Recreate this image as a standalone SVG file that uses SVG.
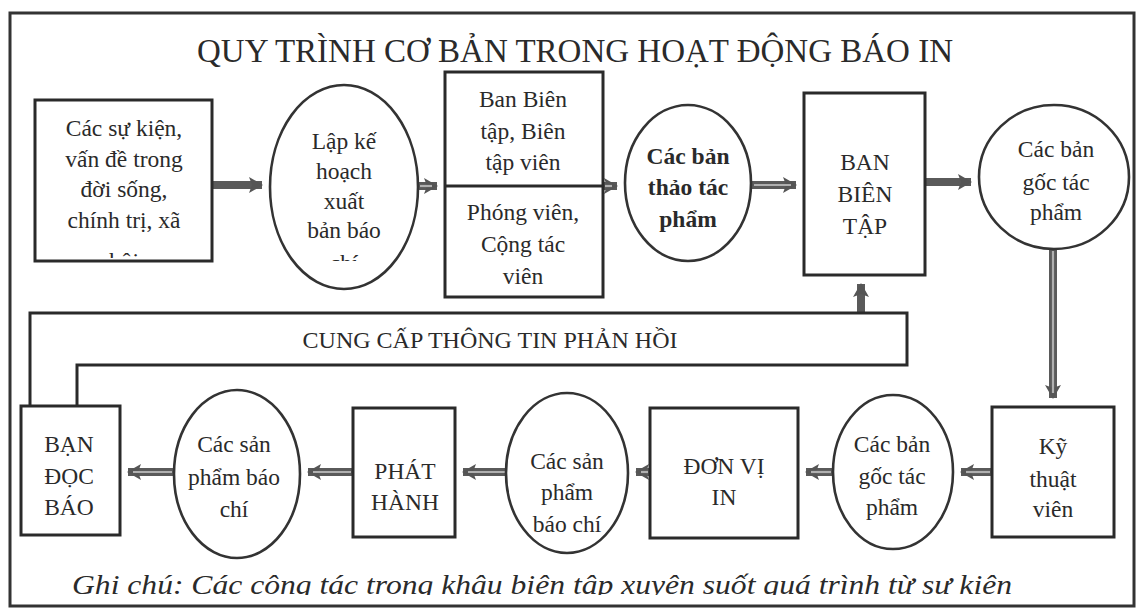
<svg xmlns="http://www.w3.org/2000/svg" width="1139" height="611" viewBox="0 0 1139 611">
<style>
.t{font-family:"Liberation Serif","Times New Roman",serif;font-size:23.5px;fill:#2a2a2a;text-anchor:middle}
.b{font-weight:bold}
.box{fill:#fff;stroke:#2a2a2a;stroke-width:3}
.ell{fill:#fff;stroke:#333;stroke-width:2.6}
.sh{fill:none;stroke:#5a5a5a;stroke-width:8}
.in{fill:none;stroke:#b0b0b0;stroke-width:2.2}
</style>
<defs>
<marker id="ah" markerUnits="userSpaceOnUse" markerWidth="14" markerHeight="16" refX="13" refY="8" orient="auto">
<path d="M0,0 L14,8 L0,16 L3,8 Z" fill="#555"/>
</marker>
<clipPath id="c1"><rect x="36" y="101" width="175" height="157"/></clipPath>
<clipPath id="c2"><rect x="270" y="85" width="150" height="176"/></clipPath>
<clipPath id="cf"><rect x="12" y="540" width="1120" height="55"/></clipPath>
</defs>
<rect width="1139" height="611" fill="#fff"/>
<rect x="10" y="13" width="1124" height="593" fill="none" stroke="#333" stroke-width="3"/>
<text class="t" x="575" y="62" style="font-size:33px">QUY TRÌNH CƠ BẢN TRONG HOẠT ĐỘNG BÁO IN</text>

<g id="connectors">
<path class="sh" d="M213,185 H262" marker-end="url(#ah)"/>
<path class="sh" d="M418,186 H437" marker-end="url(#ah)"/>
<path class="in" d="M420,186 H432"/>
<path class="sh" d="M603,186 H617" marker-end="url(#ah)"/>
<path class="in" d="M605,186 H612"/>
<path class="sh" d="M752,185 H796" marker-end="url(#ah)"/>
<path class="in" d="M754,185 H791"/>
<path class="sh" d="M925,182 H971" marker-end="url(#ah)"/>
<path class="sh" d="M1053,249 V398" marker-end="url(#ah)"/>
<path class="in" d="M1053,251 V393"/>
<path class="sh" d="M861,313 V284" marker-end="url(#ah)"/>
<path class="sh" d="M992,472 H961" marker-end="url(#ah)"/>
<path class="in" d="M990,472 H966"/>
<path class="sh" d="M833,472 H806" marker-end="url(#ah)"/>
<path class="in" d="M831,472 H811"/>
<path class="sh" d="M650,472 H636" marker-end="url(#ah)"/>
<path class="in" d="M648,472 H641"/>
<path class="sh" d="M507,472 H463" marker-end="url(#ah)"/>
<path class="in" d="M505,472 H468"/>
<path class="sh" d="M353,472 H308" marker-end="url(#ah)"/>
<path class="in" d="M351,472 H313"/>
<path class="sh" d="M174,472 H128" marker-end="url(#ah)"/>
<path class="in" d="M172,472 H133"/>
</g>

<g id="su-kien">
<rect class="box" x="35" y="100" width="177" height="161"/>
<g clip-path="url(#c1)">
<text class="t" x="124" y="136">Các sự kiện,</text>
<text class="t" x="124" y="167">vấn đề trong</text>
<text class="t" x="124" y="197">đời sống,</text>
<text class="t" x="124" y="228">chính trị, xã</text>
<text class="t" x="124" y="269">hội</text>
</g>
</g>

<g id="lap-ke-hoach">
<ellipse class="ell" cx="344" cy="187" rx="74" ry="102"/>
<g clip-path="url(#c2)">
<text class="t" x="344" y="149">Lập kế</text>
<text class="t" x="344" y="179">hoạch</text>
<text class="t" x="344" y="209">xuất</text>
<text class="t" x="344" y="238">bản báo</text>
<text class="t" x="344" y="271">chí</text>
</g>
</g>

<g id="ban-bien-tap-phong-vien">
<rect class="box" x="445" y="72" width="158" height="225"/>
<line x1="445" y1="186" x2="603" y2="186" stroke="#2a2a2a" stroke-width="3"/>
<text class="t" x="523" y="107">Ban Biên</text>
<text class="t" x="523" y="139">tập, Biên</text>
<text class="t" x="523" y="170">tập viên</text>
<text class="t" x="523" y="220">Phóng viên,</text>
<text class="t" x="523" y="252">Cộng tác</text>
<text class="t" x="523" y="284">viên</text>
</g>

<g id="ban-thao">
<ellipse class="ell" cx="688" cy="183" rx="63" ry="78"/>
<text class="t b" x="688" y="164">Các bản</text>
<text class="t b" x="688" y="195">thảo tác</text>
<text class="t b" x="688" y="227">phẩm</text>
</g>

<g id="ban-bien-tap">
<rect class="box" x="804" y="93" width="121" height="182"/>
<text class="t" x="865" y="170">BAN</text>
<text class="t" x="865" y="202">BIÊN</text>
<text class="t" x="865" y="234">TẬP</text>
</g>

<g id="ban-goc-1">
<ellipse class="ell" cx="1054" cy="177" rx="75" ry="72"/>
<text class="t" x="1056" y="157">Các bản</text>
<text class="t" x="1056" y="190">gốc tác</text>
<text class="t" x="1056" y="220">phẩm</text>
</g>

<g id="phan-hoi">
<path d="M30,406 V313 H907 V365 H77 V406" fill="#fff" stroke="#2a2a2a" stroke-width="3"/>
<text class="t" x="490" y="348" style="font-size:24px">CUNG CẤP THÔNG TIN PHẢN HỒI</text>
</g>

<g id="ky-thuat-vien">
<rect class="box" x="992" y="407" width="122" height="130"/>
<text class="t" x="1053" y="454">Kỹ</text>
<text class="t" x="1053" y="487">thuật</text>
<text class="t" x="1053" y="517">viên</text>
</g>

<g id="ban-goc-2">
<ellipse class="ell" cx="893" cy="472" rx="60" ry="77"/>
<text class="t" x="892" y="452">Các bản</text>
<text class="t" x="892" y="484">gốc tác</text>
<text class="t" x="892" y="515">phẩm</text>
</g>

<g id="don-vi-in">
<rect class="box" x="650" y="408" width="148" height="130"/>
<text class="t" x="724" y="474">ĐƠN VỊ</text>
<text class="t" x="724" y="505">IN</text>
</g>

<g id="san-pham-1">
<ellipse class="ell" cx="567" cy="473" rx="61" ry="80"/>
<text class="t" x="567" y="469">Các sản</text>
<text class="t" x="567" y="500">phẩm</text>
<text class="t" x="567" y="532">báo chí</text>
</g>

<g id="phat-hanh">
<rect class="box" x="353" y="408" width="102" height="129"/>
<text class="t" x="405" y="479">PHÁT</text>
<text class="t" x="405" y="510">HÀNH</text>
</g>

<g id="san-pham-2">
<ellipse class="ell" cx="237" cy="474" rx="63" ry="84"/>
<text class="t" x="234" y="452">Các sản</text>
<text class="t" x="234" y="485">phẩm báo</text>
<text class="t" x="234" y="517">chí</text>
</g>

<g id="ban-doc">
<rect class="box" x="21" y="406" width="99" height="129"/>
<text class="t" x="69" y="452">BẠN</text>
<text class="t" x="69" y="484">ĐỌC</text>
<text class="t" x="69" y="515">BÁO</text>
</g>

<g clip-path="url(#cf)">
<text x="72" y="594" textLength="940" lengthAdjust="spacingAndGlyphs" style="font-family:'Liberation Serif','Times New Roman',serif;font-style:italic;font-size:28px;fill:#2a2a2a">Ghi chú: Các công tác trong khâu biên tập xuyên suốt quá trình từ sự kiện</text>
</g>
</svg>
